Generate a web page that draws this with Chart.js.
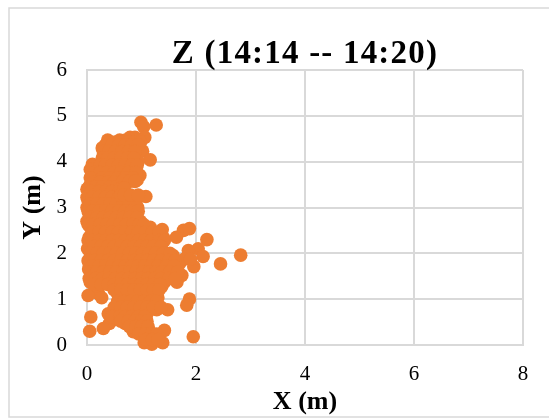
<!DOCTYPE html>
<html>
<head>
<meta charset="utf-8">
<script src="https://cdn.jsdelivr.net/npm/chart.js@4"></script>
<style>
  html, body { margin: 0; padding: 0; background: #fff; overflow: hidden; }
  canvas { display: block; }
</style>
</head>
<body>
<canvas id="scatterChart" width="549" height="418"></canvas>
<script>
const chartTitle = 'Z (14:14 -- 14:20)';
const xTitle = 'X (m)';
const yTitle = 'Y (m)';
const xTicks = [0, 2, 4, 6, 8];
const yTicks = [0, 1, 2, 3, 4, 5, 6];

// y value of each row of points
const rowY = [
  4.86, 4.8, 4.76, 4.53, 4.47, 4.3, 4.23, 4.15, 4.04, 4, 3.94, 3.83, 3.7, 3.6, 3.5, 3.4,
  3.3, 3.24, 3.15, 3, 2.85, 2.7, 2.57, 2.52, 2.5, 2.35, 2.3, 2.2, 2.1, 2.06, 1.99, 1.96,
  1.95, 1.93, 1.9, 1.78, 1.77, 1.71, 1.66, 1.52, 1.37, 1.27, 1.12, 1.08, 1.03, 1, 0.87, 0.77,
  0.68, 0.61, 0.56, 0.47, 0.36, 0.32, 0.3, 0.29, 0.18, 0.05, 0.02,
  4.42, 4.36, 4.22, 4.08, 3.92, 3.76, 3.65, 3.55, 3.45, 3.35, 3.22, 3.08, 2.92, 2.78, 2.63, 2.54, 2.46,
  2.28, 2.15, 2, 1.87, 1.84, 1.72, 1.59, 1.45, 1.32, 1.2, 0.95, 0.82, 0.62, 0.52, 0.4, 0.24, 0.12,
  3.57, 3.42, 3.27
];
// x values in each of those rows
const rowX = [
  [0.99], [1.27], [1.04],
  [1.06, 0.79, 0.88], [0.38, 0.6, 0.71, 0.96],
  [0.28, 0.42, 0.55, 0.66, 0.78, 0.9], [1.02],
  [0.34, 0.5, 0.62, 0.74, 0.86], [1.16],
  [0.3, 0.44, 0.58, 0.7, 0.82, 0.94], [0.1, 0.36],
  [0.06, 0.52, 0.66, 0.78, 0.9], [0.3, 0.44, 0.6, 0.74, 0.86, 0.97],
  [0.1, 0.2, 0.34, 0.5, 0.64, 0.92], [0.06, 0.18, 0.3, 0.44, 0.56],
  [0, 0.12, 0.24, 0.38, 0.5, 0.62], [0.04, 0.18, 0.3, 0.44, 0.56],
  [0.72, 0.85, 1.08],
  [0.02, 0.14, 0.26, 0.38, 0.5, 0.62, 0.74, 0.88],
  [0, 0.1, 0.22, 0.34, 0.46, 0.58, 0.7, 0.82, 0.93],
  [0.04, 0.16, 0.28, 0.4, 0.52, 0.64, 0.76, 0.9],
  [0, 0.12, 0.24, 0.36, 0.48, 0.6, 0.72, 0.84, 0.98],
  [0.06, 0.18, 0.3, 0.42, 0.54, 0.66, 0.78, 0.9, 1.04, 1.16], [1.38],
  [1.77], [0.04, 0.16, 0.28, 0.4, 0.52, 0.64, 0.76, 0.88, 1, 1.12, 1.26, 1.4, 1.64],
  [2.2], [0.08, 0.2, 0.32, 0.44, 0.56, 0.68, 0.8, 0.92, 1.04, 1.16, 1.28],
  [0.01, 0.14, 0.26, 0.38, 0.5, 0.62, 0.74, 0.86, 0.98, 1.1, 1.22, 1.34, 2.04],
  [1.86], [1.43], [2.82], [1.58], [2.13],
  [0.1, 0.22, 0.34, 0.46, 0.58, 0.7, 0.82, 0.94, 1.06, 1.18, 1.3],
  [0.04, 0.16, 0.28, 0.4, 0.52, 0.64, 0.76, 0.88, 1, 1.12, 1.24, 1.36, 1.5, 1.7],
  [2.45], [1.96],
  [0.03, 0.18, 0.3, 0.42, 0.54, 0.66, 0.78, 0.9, 1.02, 1.14, 1.26, 1.4, 1.55],
  [0.1, 0.24, 0.36, 0.48, 0.6, 0.72, 0.84, 0.96, 1.08, 1.2, 1.32, 1.46, 1.74],
  [0.06, 0.2, 0.32, 0.44, 0.56, 0.68, 0.8, 0.92, 1.04, 1.16, 1.28, 1.42, 1.65],
  [0.15, 0.5, 0.62, 0.74, 0.86, 0.98, 1.1, 1.22, 1.37],
  [0.21, 0.56, 0.68, 0.8, 0.92, 1.04, 1.16, 1.28], [0.02],
  [0.27, 0.6, 0.72, 0.84, 0.96, 1.08, 1.2, 1.3], [1.88],
  [0.62, 0.74, 0.86, 0.98, 1.1, 1.24, 1.83], [0.55, 0.68, 0.8, 0.92, 1.04, 1.16, 1.28, 1.48],
  [0.39, 0.62, 0.74, 0.86, 0.98, 1.1], [0.07], [0.51, 0.72, 0.84, 0.96, 1.08],
  [0.41, 0.7, 0.82, 0.94, 1.05], [0.3], [0.9, 1.02, 1.14, 1.42], [0.05], [0.85],
  [1.1, 1.22, 1.95], [1.05, 1.39], [1.19],
  [0.5, 0.62, 0.74, 0.86, 0.98],
  [0.34, 0.46, 0.58, 0.7, 0.82, 0.94],
  [0.3, 0.4, 0.52, 0.64, 0.76, 0.88],
  [0.28, 0.38, 0.5, 0.62, 0.74, 0.86],
  [0.24, 0.34, 0.46, 0.58, 0.7, 0.82, 0.92],
  [0.14, 0.24, 0.36, 0.5, 0.62, 0.76, 0.9],
  [0.06, 0.28, 0.42, 0.56, 0.7, 0.84],
  [0.12, 0.24, 0.38, 0.5],
  [0.04, 0.16, 0.28, 0.42, 0.54],
  [0.08, 0.22, 0.34, 0.46, 0.58],
  [0, 0.1, 0.22, 0.34, 0.46, 0.58, 0.66, 0.8],
  [0.06, 0.18, 0.3, 0.42, 0.54, 0.66, 0.78, 0.9],
  [0.02, 0.1, 0.22, 0.34, 0.46, 0.58, 0.7, 0.82, 0.94],
  [0.06, 0.18, 0.3, 0.42, 0.54, 0.66, 0.78, 0.92],
  [0.02, 0.12, 0.24, 0.36, 0.48, 0.6, 0.72, 0.84, 0.96, 1.04],
  [1.88],
  [0.1, 0.22, 0.34, 0.46, 0.58, 0.7, 0.82, 0.94, 1.06, 1.2, 1.32],
  [0.02, 0.1, 0.22, 0.34, 0.46, 0.58, 0.7, 0.82, 0.94, 1.06, 1.18, 1.32, 1.42],
  [0.14, 0.26, 0.38, 0.5, 0.62, 0.74, 0.86, 0.98, 1.1, 1.22, 1.36],
  [0.06, 0.18, 0.3, 0.42, 0.54, 0.66, 0.78, 0.9, 1.02, 1.14, 1.26, 1.4, 1.52],
  [1.78, 1.9],
  [0.02, 0.14, 0.26, 0.38, 0.5, 0.62, 0.74, 0.86, 0.98, 1.1, 1.22, 1.36, 1.5, 1.62],
  [0.1, 0.22, 0.34, 0.46, 0.58, 0.7, 0.82, 0.94, 1.06, 1.18, 1.3, 1.46, 1.6],
  [0.06, 0.18, 0.3, 0.42, 0.54, 0.66, 0.78, 0.9, 1.02, 1.14, 1.26, 1.38, 1.52, 1.66],
  [0.04, 0.16, 0.28, 0.4, 0.52, 0.64, 0.76, 0.88, 1, 1.12, 1.24, 1.36, 1.5, 1.62],
  [0.12, 0.26, 0.38, 0.5, 0.62, 0.74, 0.86, 0.98, 1.1, 1.22, 1.34],
  [0.5, 0.62, 0.74, 0.86, 0.98, 1.1, 1.22, 1.32],
  [0.56, 0.68, 0.8, 0.92, 1.04, 1.16, 1.28],
  [0.5, 0.62, 0.74, 0.86, 0.98, 1.1, 1.22, 1.36],
  [0.46, 0.6, 0.7, 0.82, 0.94, 1.06],
  [0.62, 0.76, 0.88, 1, 1.1],
  [0.78, 0.9, 1, 1.12],
  [0.95, 1.07, 1.18, 1.28],
  [1.08, 1.2, 1.3],
  [0.66, 0.78, 0.88],
  [0.62, 0.68],
  [0.62, 0.68, 0.8, 0.94]
];

const points = rowY.flatMap((y, i) => rowX[i].map(x => ({ x, y })));

const gridColor = '#d9d9d9';
const serif = '"Liberation Serif", "Times New Roman", serif';

// outer frame of the chart and the spaced out title
const frameAndTitle = {
  id: 'frameAndTitle',
  beforeDraw(chart) {
    const { ctx } = chart;
    ctx.save();
    ctx.strokeStyle = gridColor;
    ctx.lineWidth = 1.5;
    ctx.strokeRect(9, 8, 600, 409);
    ctx.restore();
  },
  afterDraw(chart) {
    const { ctx, chartArea } = chart;
    ctx.save();
    ctx.font = 'bold 33px ' + serif;
    ctx.letterSpacing = '1.2px';
    ctx.fillStyle = '#000';
    ctx.textAlign = 'center';
    ctx.textBaseline = 'alphabetic';
    ctx.fillText(chartTitle, (chartArea.left + chartArea.right) / 2, 63);
    ctx.restore();
  }
};

new Chart(document.getElementById('scatterChart').getContext('2d'), {
  type: 'scatter',
  data: {
    datasets: [{
      label: 'Z',
      data: points,
      clip: false,
      pointRadius: 6.8,
      pointHoverRadius: 6.8,
      pointBackgroundColor: '#ed7d31',
      pointBorderWidth: 0
    }]
  },
  options: {
    responsive: false,
    animation: false,
    layout: { padding: { top: 70, right: 26, bottom: 0, left: 0 } },
    plugins: { legend: { display: false }, title: { display: false }, tooltip: { enabled: false } },
    scales: {
      x: {
        type: 'linear',
        min: 0,
        max: 8,
        afterBuildTicks(axis) { axis.ticks = xTicks.map(value => ({ value })); },
        afterFit(axis) { axis.height = 73; },
        grid: { color: gridColor, lineWidth: 2, drawTicks: false },
        border: { color: gridColor, width: 2 },
        ticks: { color: '#000', padding: 17, maxRotation: 0, font: { family: serif, size: 21 } },
        title: { display: true, text: xTitle, color: '#000', padding: { top: 0, bottom: 0 }, font: { family: serif, size: 26, weight: 'bold' } }
      },
      y: {
        type: 'linear',
        min: 0,
        max: 6,
        afterBuildTicks(axis) { axis.ticks = yTicks.map(value => ({ value })); },
        afterFit(axis) { axis.width = 87; },
        grid: { color: gridColor, lineWidth: 2, drawTicks: false },
        border: { color: gridColor, width: 2 },
        ticks: { color: '#000', padding: 20, font: { family: serif, size: 21 } },
        title: { display: true, text: yTitle, color: '#000', padding: { top: 18, bottom: 0 }, font: { family: serif, size: 26, weight: 'bold' } }
      }
    }
  },
  plugins: [frameAndTitle]
});
</script>
</body>
</html>
